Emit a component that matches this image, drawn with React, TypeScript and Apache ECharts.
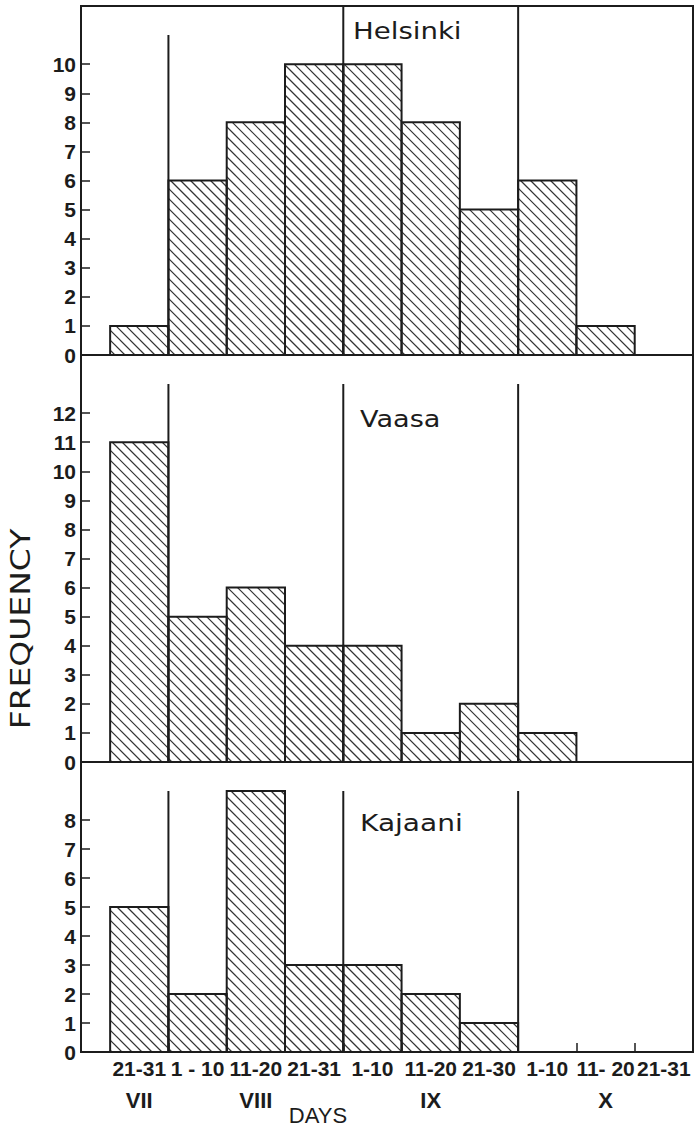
import React, { useEffect, useRef } from "react";
import * as echarts from "echarts";

const CATEGORIES = ["21-31", "1 - 10", "11-20", "21-31", "1-10", "11-20", "21-30", "1-10", "11- 20", "21-31"];
const MONTHS = ["VII", "VIII", "IX", "X"];
const MONTH_POS = [0.5, 2.5, 5.5, 8.5];
const HELSINKI = [1, 6, 8, 10, 10, 8, 5, 6, 1, 0];
const VAASA = [11, 5, 6, 4, 4, 1, 2, 1, 0, 0];
const KAJAANI = [5, 2, 9, 3, 3, 2, 1, 0, 0, 0];
const STATIONS = ["Helsinki", "Vaasa", "Kajaani"];
const Y_MAX = [12, 14, 10];
const Y_LABEL_MAX = [10, 12, 8];
const MONTH_BOUNDS = [1, 4, 7];
const SEP_HEIGHTS = [
  [11, 12, 12],
  [13, 13, 13],
  [9, 9, 9],
];

const INK = "#1c1c1c";
const LABEL_FONT = "'Liberation Sans', Arial, sans-serif";
const HATCH = 10;

const range = (a: number, b: number) => {
  const r: number[] = [];
  for (let i = a; i <= b; i++) r.push(i);
  return r;
};

function renderBar(params: any, api: any) {
  const i = api.value(0);
  const v = api.value(1);
  if (!v) return { type: "group", children: [] };
  const p0 = api.coord([i, 0]);
  const p1 = api.coord([i + 1, v]);
  const xa = p0[0], xb = p1[0], ya = p1[1], yb = p0[1];
  const children: any[] = [];
  const cStart = Math.ceil((ya - xb) / HATCH) * HATCH;
  for (let c = cStart; c <= yb - xa; c += HATCH) {
    const xs = Math.max(xa, ya - c);
    const xe = Math.min(xb, yb - c);
    if (xe > xs + 0.5) {
      children.push({
        type: "line",
        shape: { x1: xs, y1: xs + c, x2: xe, y2: xe + c },
        style: { stroke: "#333", lineWidth: 1.2 },
      });
    }
  }
  children.push({
    type: "rect",
    shape: { x: xa, y: ya, width: xb - xa, height: yb - ya },
    style: { fill: "none", stroke: INK, lineWidth: 2 },
  });
  return { type: "group", children };
}

function renderSep(params: any, api: any) {
  const x = api.value(0);
  const h = api.value(1);
  const p0 = api.coord([x, 0]);
  const p1 = api.coord([x, h]);
  return {
    type: "line",
    shape: { x1: p0[0], y1: p0[1], x2: p1[0], y2: p1[1] },
    style: { stroke: INK, lineWidth: 2 },
  };
}

export default function App() {
  const ref = useRef<HTMLDivElement>(null);
  useEffect(() => {
    if (!ref.current) return;
    const chart = echarts.init(ref.current, null, { renderer: "svg" });
    const grids = [
      { left: 81, right: 2, top: 6, height: 349 },
      { left: 81, right: 2, top: 355, height: 407 },
      { left: 81, right: 2, top: 762, height: 290 },
    ].map((g) => ({ ...g, show: true, borderColor: INK, borderWidth: 2, backgroundColor: "transparent" }));

    const xAxes: any[] = [0, 1, 2].map((gi) => ({
      gridIndex: gi,
      type: "value",
      min: -0.5,
      max: 10,
      axisLine: { show: false, onZero: false },
      splitLine: { show: false },
      axisTick:
        gi === 2
          ? { show: true, inside: true, length: 9, customValues: range(1, 9), lineStyle: { color: INK, width: 1.5 } }
          : { show: false },
      axisLabel:
        gi === 2
          ? {
              show: true,
              customValues: CATEGORIES.map((_, i) => i + 0.5),
              formatter: (v: number) => CATEGORIES[Math.round(v - 0.5)] ?? "",
              showMinLabel: true,
              showMaxLabel: true,
              hideOverlap: false,
              fontFamily: LABEL_FONT,
              fontWeight: "bold",
              fontSize: 21,
              color: INK,
              margin: 6,
            }
          : { show: false },
    }));
    xAxes.push({
      gridIndex: 2,
      type: "value",
      min: -0.5,
      max: 10,
      position: "bottom",
      axisLine: { show: false, onZero: false },
      axisTick: { show: false },
      splitLine: { show: false },
      axisLabel: {
        customValues: MONTH_POS,
        formatter: (v: number) => MONTHS[MONTH_POS.indexOf(v)] ?? "",
        showMinLabel: true,
        showMaxLabel: true,
        fontFamily: LABEL_FONT,
        fontWeight: "bold",
        fontSize: 22,
        color: INK,
        margin: 37,
      },
    });

    const yAxes = [0, 1, 2].map((gi) => ({
      gridIndex: gi,
      type: "value",
      min: 0,
      max: Y_MAX[gi],
      interval: 1,
      axisLine: { show: false, onZero: false },
      splitLine: { show: false },
      axisTick: {
        show: true,
        inside: true,
        length: 9,
        customValues: range(0, Y_LABEL_MAX[gi]),
        lineStyle: { color: INK, width: 1.5 },
      },
      axisLabel: {
        customValues: range(0, Y_LABEL_MAX[gi]),
        showMinLabel: true,
        fontFamily: LABEL_FONT,
        fontWeight: "bold",
        fontSize: 21,
        color: INK,
        margin: 5,
      },
    }));

    const datasets = [HELSINKI, VAASA, KAJAANI];
    const series: any[] = [];
    datasets.forEach((vals, gi) => {
      series.push({
        type: "custom",
        name: STATIONS[gi],
        xAxisIndex: gi,
        yAxisIndex: gi,
        clip: false,
        renderItem: renderBar,
        data: vals.map((v, i) => [i, v]),
        z: 2,
      });
      series.push({
        type: "custom",
        name: STATIONS[gi] + " months",
        xAxisIndex: gi,
        yAxisIndex: gi,
        clip: false,
        renderItem: renderSep,
        data: MONTH_BOUNDS.map((b, k) => [b, SEP_HEIGHTS[gi][k]]),
        z: 3,
      });
    });

    const titleFont = "23px 'DejaVu Sans', sans-serif";
    const graphic: any[] = [
      { type: "text", x: 353, y: 31, scaleX: 1.2, style: { text: "Helsinki", font: titleFont, fill: INK, textAlign: "left", textVerticalAlign: "middle" } },
      { type: "text", x: 360, y: 419, scaleX: 1.18, style: { text: "Vaasa", font: titleFont, fill: INK, textAlign: "left", textVerticalAlign: "middle" } },
      { type: "text", x: 360, y: 823, scaleX: 1.22, style: { text: "Kajaani", font: titleFont, fill: INK, textAlign: "left", textVerticalAlign: "middle" } },
      {
        type: "text",
        x: 21,
        y: 629,
        rotation: Math.PI / 2,
        scaleX: 1.22,
        style: { text: "FREQUENCY", font: "27px 'DejaVu Sans', sans-serif", fill: INK, textAlign: "center", textVerticalAlign: "middle" },
      },
      {
        type: "text",
        x: 318,
        y: 1115,
        style: { text: "DAYS", font: "22px 'Liberation Sans', Arial, sans-serif", fill: INK, textAlign: "center", textVerticalAlign: "middle" },
      },
    ];

    chart.setOption({
      animation: false,
      backgroundColor: "#fff",
      grid: grids,
      xAxis: xAxes,
      yAxis: yAxes,
      series,
      graphic,
    });
    return () => chart.dispose();
  }, []);
  return <div ref={ref} style={{ position: "absolute", left: 0, top: 0, width: 695, height: 1130, background: "#fff" }} />;
}
